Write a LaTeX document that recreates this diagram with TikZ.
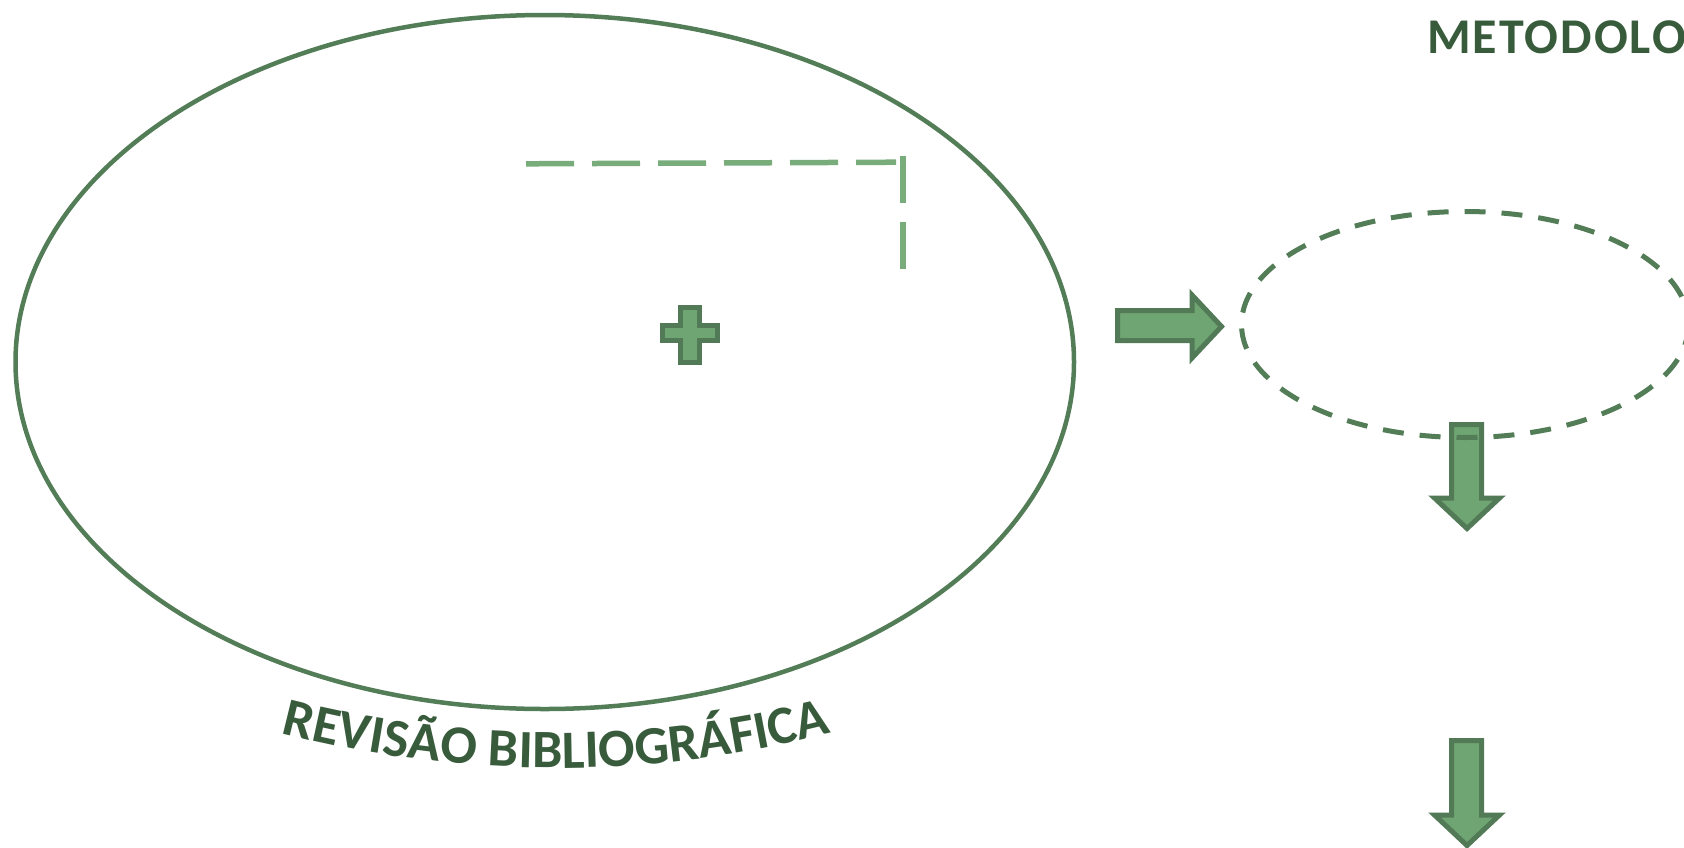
\documentclass[tikz,border=0pt]{standalone}
\usepackage{fontspec}
\newfontfamily\carl{Carlito}
\newfontfamily\carlsp[LetterSpace=4]{Carlito}
\usetikzlibrary{decorations.text}
\definecolor{ellcol}{HTML}{537D57}
\definecolor{arrfill}{HTML}{6FA572}
\definecolor{arrdraw}{HTML}{527A56}
\definecolor{lcol}{HTML}{79AC7B}
\definecolor{txtcol}{HTML}{385B3B}
\tikzset{
  ellline/.style={draw=ellcol, line width=4.5pt},
  dashell/.style={draw=ellcol, line width=5pt, dash pattern=on 21pt off 16pt},
  lline/.style={draw=lcol, line width=5.5pt},
  blockarrow/.style={draw=arrdraw, fill=arrfill, line width=5pt, line join=miter},
  titletext/.style={text=txtcol, font=\carlsp\bfseries\fontsize{50}{50}\selectfont, inner sep=0pt, anchor=base west}
}
\begin{document}
\begin{tikzpicture}[x=1pt,y=-1pt,line cap=butt]
\useasboundingbox (0,0) rectangle (1684,847);
\clip (0,0) rectangle (1684,847);
% big ellipse
\coordinate (revc) at (544.75,362);
\draw[ellline] (revc) ellipse [x radius=529.25, y radius=347];
% dashed L
\coordinate (l1) at (526,163.8);
\coordinate (l2) at (896,162.2);
\coordinate (l3) at (903,156);
\coordinate (l4) at (903,269);
\draw[lline, dash pattern=on 48pt off 18pt] (l1) -- (l2);
\draw[lline, dash pattern=on 47pt off 19pt] (l3) -- (l4);
% plus
\draw[blockarrow] (680.5,307.5) -- (699.5,307.5) -- (699.5,325.5) -- (717.5,325.5) -- (717.5,340.5) -- (699.5,340.5) -- (699.5,362.5) -- (680.5,362.5) -- (680.5,340.5) -- (662.5,340.5) -- (662.5,325.5) -- (680.5,325.5) -- cycle;
% right arrow
\draw[blockarrow] (1117.5,310.5) -- (1192,310.5) -- (1192,295) -- (1221.5,326.5) -- (1192,358) -- (1192,340.5) -- (1117.5,340.5) -- cycle;
% down arrows
\draw[blockarrow] (1451.5,424.5) -- (1481.5,424.5) -- (1481.5,498) -- (1499.5,498) -- (1467,528.5) -- (1434.5,498) -- (1451.5,498) -- cycle;
\draw[blockarrow] (1451.5,740.5) -- (1481.5,740.5) -- (1481.5,815) -- (1499.5,815) -- (1467,845.5) -- (1434.5,815) -- (1451.5,815) -- cycle;
% dashed ellipse
\coordinate (metc) at (1465,324.5);
\draw[dashell] (metc) ellipse [x radius=223.5, y radius=113];
% title
\node[titletext] (met) at (1427,53) {METODOLO};
% curved label
\path[decorate, decoration={text along path, text align=center,
  text={|\carl\bfseries\fontsize{54}{54}\selectfont\color{txtcol}|REVISÃO BIBLIOGRÁFICA}}]
  (143.9,687.9) arc[start angle=112, end angle=68, radius=1100];
\end{tikzpicture}
\end{document}
